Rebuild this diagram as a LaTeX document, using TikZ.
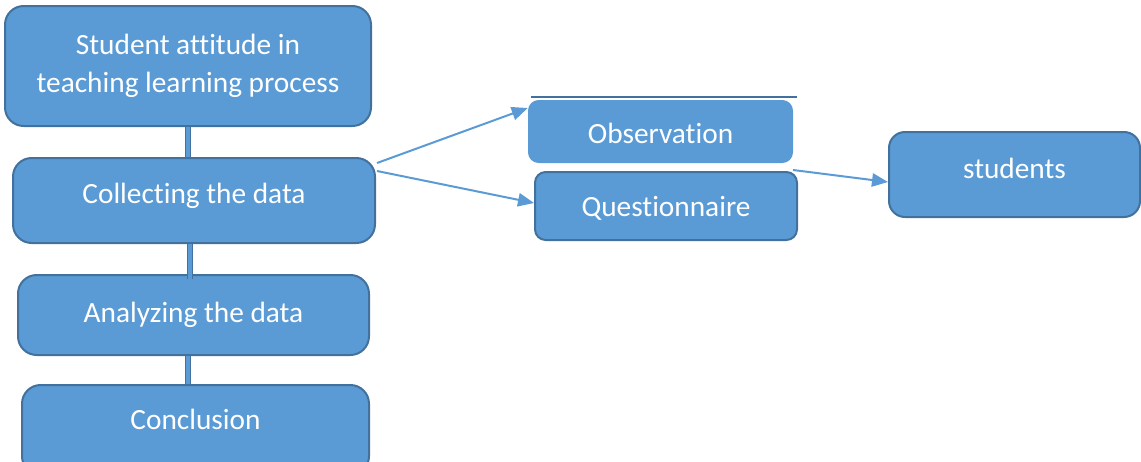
\documentclass[tikz,border=0pt]{standalone}
\usepackage{fontspec}
\setmainfont{Carlito}[Ligatures=NoCommon]
\usetikzlibrary{arrows.meta}
\definecolor{boxfill}{HTML}{5B9BD5}
\definecolor{boxline}{HTML}{41719C}
\tikzset{
  box/.style={draw=boxline, line width=1.5pt, fill=boxfill, rounded corners=14pt, text=white,
    font=\fontsize{22}{29}\selectfont, align=center, inner sep=0pt},
  plainbox/.style={fill=boxfill, rounded corners=8pt, text=white,
    font=\fontsize{22}{29}\selectfont, align=center, inner sep=0pt},
  link/.style={draw=boxline, line width=0.9pt, double=boxfill, double distance=2.6pt},
  arr/.style={draw=boxfill, line width=1.5pt, -{Triangle[length=12pt,width=10pt]}},
}
\begin{document}
\begin{tikzpicture}[x=0.75pt,y=-0.75pt]
\useasboundingbox (0,0) rectangle (1141,461);
% vertical chain
\node[box, minimum width=366*0.75pt, minimum height=120*0.75pt] (b1) at (188,66) {Student attitude in\\teaching learning process};
\node[box, minimum width=362*0.75pt, minimum height=85*0.75pt, text depth=10.5pt] (b2) at (194,200.5) {Collecting the data};
\node[box, minimum width=351*0.75pt, minimum height=80*0.75pt] (b3) at (193.5,315) {Analyzing the data};
\node[box, minimum width=347*0.75pt, minimum height=90*0.75pt, text depth=15.5pt] (b4) at (195.5,430) {Conclusion};
% right side
\node[plainbox, minimum width=265*0.75pt, minimum height=63*0.75pt, text height=18pt] (obs) at (660.5,131.5) {Observation};
\node[box, rounded corners=8pt, minimum width=262*0.75pt, minimum height=68*0.75pt, text height=18pt] (que) at (666,206) {Questionnaire};
\node[box, rounded corners=12pt, minimum width=251*0.75pt, minimum height=85*0.75pt, text depth=9.5pt] (stu) at (1014.5,174.5) {students};
\coordinate (ol) at (531,97);
\coordinate (or) at (797,97);
\draw[draw=boxline, line width=1pt] (ol) -- (or);
% links
\draw[link] (b1.south -| 188,0) -- (b2.north -| 188,0);
\draw[link] (b2.south -| 190,0) -- ([yshift=-4pt]b3.north -| 190,0);
\draw[link] (b3.south -| 188,0) -- (b4.north -| 188,0);
% arrows
\coordinate (c1) at (377,163);
\coordinate (c2) at (377,171);
\coordinate (c3) at (793,170);
\draw[arr] (c1) -- (obs.north west |- 0,108) ;
\draw[arr] (c2) -- (que.west |- 0,203);
\draw[arr] (c3) -- (stu.west |- 0,182);
\end{tikzpicture}
\end{document}
